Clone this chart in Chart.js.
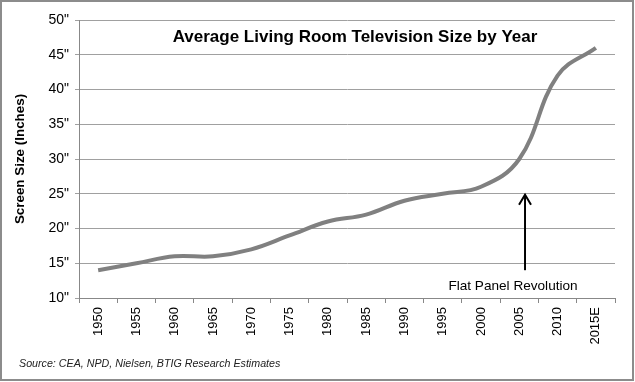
<!DOCTYPE html>
<html>
<head>
<meta charset="utf-8">
<script src="https://cdn.jsdelivr.net/npm/chart.js@4/dist/chart.umd.min.js"></script>
<style>
html,body{margin:0;padding:0;background:#fff;}
canvas{display:block;}
</style>
</head>
<body>
<canvas id="c" width="635" height="382"></canvas>
<script>
const years = ['1950','1955','1960','1965','1970','1975','1980','1985','1990','1995','2000','2005','2010','2015E'];
const screenSize = [14, 15, 16, 16, 17, 19, 21, 22, 24, 25, 26, 30, 42, 46];
const yTicks = [10, 15, 20, 25, 30, 35, 40, 45, 50];
const chartTitle = 'Average Living Room Television Size by Year';
const yAxisTitle = 'Screen Size (Inches)';
const sourceNote = 'Source: CEA, NPD, Nielsen, BTIG Research Estimates';
const annotationText = 'Flat Panel Revolution';
const annotationAt = {index: 11.15, from: 14, to: 25};

const FONT = "'Liberation Sans', Arial, sans-serif";

const extras = {
  id: 'extras',
  afterDraw(chart) {
    const ctx = chart.ctx;
    const xs = chart.scales.x, ys = chart.scales.y;
    ctx.save();
    // title
    ctx.fillStyle = '#000';
    ctx.font = 'bold 17px ' + FONT;
    ctx.textAlign = 'center';
    ctx.textBaseline = 'alphabetic';
    ctx.fillText(chartTitle, 355, 42);
    // annotation arrow
    const ax = xs.left + (annotationAt.index + 0.5) * (xs.width / years.length);
    const y1 = ys.getPixelForValue(annotationAt.from);
    const y2 = ys.getPixelForValue(annotationAt.to);
    ctx.strokeStyle = '#000';
    ctx.lineWidth = 2;
    ctx.beginPath();
    ctx.moveTo(ax, y1);
    ctx.lineTo(ax, y2 + 1);
    ctx.stroke();
    ctx.beginPath();
    ctx.moveTo(ax - 6, y2 + 11);
    ctx.lineTo(ax, y2 + 1);
    ctx.lineTo(ax + 6, y2 + 11);
    ctx.stroke();
    ctx.font = '13.6px ' + FONT;
    ctx.textAlign = 'center';
    ctx.fillText(annotationText, 513, 290);
    // source
    ctx.font = 'italic 10.7px ' + FONT;
    ctx.textAlign = 'left';
    ctx.fillStyle = '#222';
    ctx.fillText(sourceNote, 19, 367);
    // frame
    ctx.strokeStyle = '#8c8c8c';
    ctx.lineWidth = 2;
    ctx.strokeRect(1, 1, 632, 379);
    ctx.restore();
  }
};

new Chart(document.getElementById('c'), {
  type: 'line',
  data: {
    labels: years,
    datasets: [{
      data: screenSize,
      borderColor: '#808080',
      borderWidth: 4,
      pointRadius: 0,
      tension: 0.4,
      fill: false
    }]
  },
  options: {
    responsive: false,
    animation: false,
    devicePixelRatio: 1,
    layout: {padding: {top: 20, right: 20, left: 0, bottom: 0}},
    plugins: {legend: {display: false}, tooltip: {enabled: false}, title: {display: false}},
    scales: {
      x: {
        type: 'category',
        offset: true,
        grid: {display: true, drawOnChartArea: false, drawTicks: true, tickLength: 5, color: '#888', offset: true},
        border: {display: true, color: '#888'},
        ticks: {minRotation: 90, maxRotation: 90, autoSkip: false, color: '#000', padding: 4,
                font: {size: 13, family: FONT}},
        afterFit(s) { s.height = 84; }
      },
      y: {
        min: 10, max: 50,
        afterBuildTicks(s) { s.ticks = yTicks.map(v => ({value: v})); },
        ticks: {color: '#000', padding: 6, font: {size: 14, family: FONT},
                callback: v => v + '"'},
        grid: {color: '#a0a0a0', tickLength: 4, drawTicks: true},
        border: {display: true, color: '#888'},
        title: {display: true, text: yAxisTitle, color: '#000', font: {size: 13.4, weight: 'bold', family: FONT}, padding: {top: 12, bottom: 0}},
        afterFit(s) { s.width = 79; }
      }
    }
  },
  plugins: [extras]
});
</script>
</body>
</html>
